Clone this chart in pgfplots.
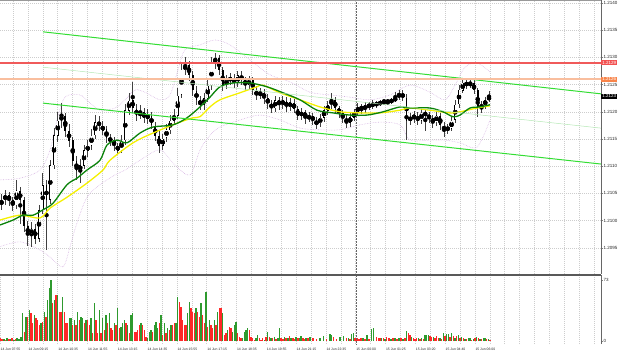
\documentclass[border=0pt]{standalone}
\usepackage{pgfplots}
\pgfplotsset{compat=1.18}
\usepackage{pgfplotstable}
\usepackage{fontspec}
\setmainfont{Liberation Sans}
\definecolor{volG}{HTML}{2E9A2E}
\definecolor{volR}{HTML}{FF2828}
\definecolor{maG}{HTML}{0A820A}
\definecolor{maY}{HTML}{F4F000}
\definecolor{chanG}{HTML}{33DD33}
\definecolor{thinG}{HTML}{B4E8B4}
\definecolor{lvlR}{HTML}{F05A5A}
\definecolor{lvlO}{HTML}{F9BE9E}
\definecolor{lblO}{HTML}{F8844A}
\definecolor{bbP}{HTML}{D6B4E2}
\definecolor{gridC}{HTML}{CDCDCD}

\pgfplotstableread{
x o h l c
1.5 1.21030 1.21050 1.21020 1.21038
5.25 1.21038 1.21058 1.21030 1.21047
9 1.21047 1.21055 1.21028 1.21038
12.75 1.21038 1.21045 1.21020 1.21029
16.5 1.21029 1.21075 1.21022 1.21056
20.25 1.21056 1.21062 1.20995 1.21038
24 1.21038 1.21045 1.20980 1.20992
27.75 1.20992 1.21000 1.20955 1.20974
31.5 1.20974 1.20998 1.20952 1.20986
35.25 1.20986 1.20995 1.20958 1.20968
39 1.20968 1.21030 1.20962 1.21020
42.75 1.21020 1.21088 1.21012 1.21066
46.5 1.21066 1.21075 1.20946 1.21038
50.25 1.21038 1.21112 1.21030 1.21102
54 1.21102 1.21170 1.21095 1.21157
57.75 1.21157 1.21200 1.21145 1.21185
61.5 1.21185 1.21216 1.21170 1.21194
65.25 1.21194 1.21200 1.21155 1.21167
69 1.21167 1.21178 1.21135 1.21148
72.75 1.21148 1.21155 1.21100 1.21111
76.5 1.21111 1.21120 1.21075 1.21093
80.25 1.21093 1.21115 1.21071 1.21102
84 1.21102 1.21140 1.21095 1.21130
87.75 1.21130 1.21150 1.21118 1.21139
91.5 1.21139 1.21168 1.21130 1.21157
95.25 1.21157 1.21195 1.21150 1.21181
99 1.21181 1.21192 1.21165 1.21176
102.75 1.21176 1.21185 1.21158 1.21167
106.5 1.21167 1.21175 1.21143 1.21152
110.25 1.21152 1.21160 1.21138 1.21148
114 1.21148 1.21155 1.21128 1.21139
117.75 1.21139 1.21145 1.21124 1.21130
121.5 1.21130 1.21158 1.21125 1.21148
125.25 1.21148 1.21215 1.21140 1.21203
129 1.21203 1.21235 1.21195 1.21222
132.75 1.21222 1.21255 1.21198 1.21207
136.5 1.21207 1.21215 1.21185 1.21194
140.25 1.21194 1.21212 1.21186 1.21200
144 1.21200 1.21208 1.21180 1.21189
147.75 1.21189 1.21205 1.21178 1.21194
151.5 1.21194 1.21200 1.21168 1.21176
155.25 1.21176 1.21182 1.21148 1.21157
159 1.21157 1.21165 1.21124 1.21139
162.75 1.21139 1.21160 1.21130 1.21152
166.5 1.21152 1.21178 1.21145 1.21167
170.25 1.21167 1.21195 1.21160 1.21185
174 1.21185 1.21205 1.21175 1.21194
177.75 1.21194 1.21245 1.21188 1.21231
181.5 1.21231 1.21290 1.21225 1.21277
185.25 1.21277 1.21301 1.21268 1.21286
189 1.21286 1.21295 1.21258 1.21268
192.75 1.21268 1.21275 1.21230 1.21240
196.5 1.21240 1.21248 1.21212 1.21222
200.25 1.21222 1.21230 1.21203 1.21213
204 1.21213 1.21235 1.21205 1.21225
207.75 1.21225 1.21260 1.21218 1.21249
211.5 1.21249 1.21302 1.21242 1.21292
215.25 1.21292 1.21310 1.21280 1.21299
219 1.21299 1.21305 1.21268 1.21277
222.75 1.21277 1.21283 1.21240 1.21249
226.5 1.21249 1.21268 1.21242 1.21259
230.25 1.21259 1.21272 1.21250 1.21262
234 1.21262 1.21270 1.21245 1.21253
237.75 1.21253 1.21276 1.21246 1.21268
241.5 1.21268 1.21275 1.21250 1.21259
245.25 1.21259 1.21265 1.21240 1.21249
249 1.21249 1.21266 1.21242 1.21259
252.75 1.21259 1.21265 1.21232 1.21240
256.5 1.21240 1.21248 1.21222 1.21231
260.25 1.21231 1.21245 1.21224 1.21236
264 1.21236 1.21242 1.21215 1.21225
267.75 1.21225 1.21232 1.21206 1.21216
271.5 1.21216 1.21222 1.21198 1.21207
275.25 1.21207 1.21230 1.21200 1.21222
279 1.21222 1.21228 1.21204 1.21213
282.75 1.21213 1.21230 1.21206 1.21222
286.5 1.21222 1.21228 1.21200 1.21209
290.25 1.21209 1.21226 1.21202 1.21218
294 1.21218 1.21224 1.21198 1.21207
297.75 1.21207 1.21212 1.21185 1.21194
301.5 1.21194 1.21208 1.21186 1.21200
305.25 1.21200 1.21205 1.21180 1.21189
309 1.21189 1.21200 1.21182 1.21192
312.75 1.21192 1.21198 1.21176 1.21185
316.5 1.21185 1.21192 1.21170 1.21179
320.25 1.21179 1.21196 1.21172 1.21189
324 1.21189 1.21210 1.21182 1.21203
327.75 1.21203 1.21220 1.21196 1.21213
331.5 1.21213 1.21235 1.21206 1.21222
335.25 1.21222 1.21228 1.21198 1.21207
339 1.21207 1.21212 1.21190 1.21198
342.75 1.21198 1.21204 1.21180 1.21189
346.5 1.21189 1.21195 1.21172 1.21181
350.25 1.21181 1.21198 1.21174 1.21191
354 1.21191 1.21207 1.21184 1.21200
357.75 1.21200 1.21216 1.21193 1.21209
361.5 1.21209 1.21215 1.21198 1.21205
365.25 1.21205 1.21220 1.21199 1.21213
369 1.21213 1.21219 1.21204 1.21211
372.75 1.21211 1.21222 1.21205 1.21216
376.5 1.21216 1.21221 1.21208 1.21214
380.25 1.21214 1.21222 1.21212 1.21220
384 1.21220 1.21222 1.21215 1.21218
387.75 1.21218 1.21222 1.21215 1.21220
391.5 1.21220 1.21226 1.21216 1.21222
395.25 1.21222 1.21235 1.21218 1.21227
399 1.21227 1.21242 1.21222 1.21233
402.75 1.21233 1.21240 1.21220 1.21227
406.5 1.21227 1.21232 1.21148 1.21185
410.25 1.21185 1.21198 1.21176 1.21189
414 1.21189 1.21202 1.21180 1.21194
417.75 1.21194 1.21200 1.21176 1.21185
421.5 1.21185 1.21208 1.21178 1.21200
425.25 1.21200 1.21206 1.21167 1.21194
429 1.21194 1.21200 1.21180 1.21189
432.75 1.21189 1.21195 1.21172 1.21181
436.5 1.21181 1.21202 1.21175 1.21194
440.25 1.21194 1.21198 1.21168 1.21176
444 1.21176 1.21182 1.21154 1.21167
447.75 1.21167 1.21178 1.21160 1.21170
451.5 1.21170 1.21192 1.21165 1.21185
455.25 1.21185 1.21222 1.21180 1.21213
459 1.21213 1.21250 1.21208 1.21240
462.75 1.21240 1.21262 1.21235 1.21255
466.5 1.21255 1.21262 1.21242 1.21249
470.25 1.21249 1.21262 1.21244 1.21253
474 1.21253 1.21258 1.21232 1.21240
477.75 1.21240 1.21245 1.21191 1.21207
481.5 1.21207 1.21220 1.21198 1.21213
485.25 1.21213 1.21228 1.21205 1.21222
489 1.21222 1.21238 1.21218 1.21229
}\candles

\pgfplotstableread{
x v
4 2
7 3
10.5 2
14 1
17 3
19 2
21 5
22.7 33
26 29
29.3 37
34.3 31
41 21
44.3 35
47.7 49
49.3 63
51 73
54.3 49
57.7 55
62.7 53
69.3 27
71 27
74.3 25
77.7 35
81 29
82.7 27
86 25
91 27
94.3 45
99.3 37
102.7 27
106 31
109.3 33
114.3 21
117.7 39
121 17
122.7 21
124.3 25
127.7 19
131 31
132.7 33
141 21
147.7 3
149.3 11
151 13
154.3 19
156 23
157.7 15
161 31
164.3 21
167.7 15
171 19
176 21
177.7 53
187.7 33
189.3 47
196 39
201 45
206 59
209.3 25
214.3 25
217.7 35
222.7 33
227.7 13
232.7 11
234.3 19
236 23
242.7 3
244.3 11
246 13
247.7 15
256 3
257.7 7
264.3 1
267.7 11
271 3
274.5 5
278 4
279.5 15
284.5 5
288 3
291 4
296 5
299.5 4
301 6
306 4
310 5
320 4
323.3 6
330 8
331.7 7
340 5
343.3 6
348.3 4
351.7 8
353.3 10
363 4
367 7
371.7 14
373.3 15
381.7 4
385 2
391 2
395 3
399 4
403 2
406.7 12
411.7 5
418.3 4
421.7 3
425 7
426.7 7
428.3 7
433.3 5
440 3
443.3 10
446.7 8
448.3 8
451.7 10
455 4
458.3 7
461.7 5
465 2
468.3 3
470 3
473.3 2
476.7 5
480 2
483.3 3
485 3
488.3 2
}\volgreen

\pgfplotstableread{
x v
0.5 3
2 2
5.5 1
9 2
12 3
15.5 2
24.3 11
27.7 29
31 33
32.7 21
36 27
37.7 25
39.3 19
42.7 23
46 29
52.7 45
56 55
59.3 35
61 35
64.3 35
66 21
67.7 21
72.7 19
76 19
79.3 25
84.3 21
87.7 25
89.3 19
92.7 9
96 25
97.7 9
101 9
104.3 13
107.7 21
111 15
112.7 13
116 19
119.3 15
126 21
129.3 9
134.3 11
136 11
137.7 13
139.3 19
142.7 19
144.3 13
146 5
152.7 11
159.3 21
162.7 7
166 9
169.3 13
172.7 19
174.3 21
179.3 47
181 41
182.7 25
184.3 19
186 19
191 39
192.7 35
194.3 33
197.7 35
199.3 29
202.7 31
204.3 21
207.7 17
211 19
212.7 15
216 19
219.3 39
221 39
224.3 7
226 9
229.3 17
231 15
237.7 9
239.3 5
241 3
249.3 13
251 5
252.7 3
254.3 1
259.3 3
261 1
262.7 3
266 5
269.3 5
272.7 3
276 2
281 3
283 2
286 4
289.5 6
293 3
294.5 2
298 3
303 3
304.5 2
308 3
313 3
316.7 2
326.7 2
333.3 5
336.7 2
346.7 3
350 2
355 3
357 3
359 2
361 3
365 2
369 2
376.7 5
378.3 4
380 3
383.3 3
386.7 5
389 3
393 4
397 2
401 3
405 3
408.3 10
410 7
413.3 3
415 2
416.7 4
420 2
423.3 2
430 6
431.7 5
435 3
436.7 6
438.3 4
441.7 2
445 6
450 5
453.3 6
456.7 6
460 3
463.3 3
466.7 2
471.7 1
475 3
478.3 3
481.7 2
486.7 2
490 1
}\volred

\begin{document}
\begin{tikzpicture}
\useasboundingbox (0,0) rectangle (620pt,354pt);
% ---------------- price panel ----------------
\begin{axis}[
  scale only axis, width=601pt, height=274pt,
  at={(0pt,80pt)}, anchor=south west,
  xmin=0, xmax=601, ymin=1.209019, ymax=1.214055,
  axis line style={draw=none},
  clip mode=individual,
  xtick={12.9,27.8,...,595}, xticklabels={}, xmajorgrids,
  ytick={1.2095,1.2100,1.2105,1.2110,1.2115,1.2120,1.2125,1.2130,1.2135,1.2140},
  yticklabel pos=right, ymajorgrids,
  scaled y ticks=false,
  grid style={gridC, line width=0.4pt, dash pattern=on 1pt off 1pt},
  major tick length=1.5pt, tick align=outside,
  tick style={draw=gray, line width=0.4pt},
  xtick style={draw=none},
  yticklabel style={font=\fontsize{4.5}{5}\selectfont, text=black!85, inner sep=1pt,
    /pgf/number format/fixed, /pgf/number format/fixed zerofill,
    /pgf/number format/precision=4, /pgf/number format/assume math mode=true},
]
% Bollinger bands
\addplot[bbP, densely dotted, line width=0.6pt, smooth] coordinates {
(0,1.21075) (20,1.21078) (40,1.21093) (50,1.21130) (57,1.21185) (65,1.21227) (80,1.21231) (90,1.21216) (100,1.21203) (115,1.21207) (125,1.21222) (135,1.21240) (145,1.21236) (160,1.21222) (170,1.21231) (178,1.21277) (185,1.21314) (200,1.21323) (215,1.21332) (230,1.21323) (250,1.21295) (270,1.21268) (290,1.21255) (310,1.21236) (330,1.21231) (350,1.21227) (370,1.21222) (390,1.21231) (410,1.21249) (430,1.21236) (445,1.21222) (455,1.21249) (465,1.21282) (477,1.21290) (490,1.21273)};
\addplot[bbP, densely dotted, line width=0.6pt, smooth] coordinates {
(0,1.20952) (20,1.20961) (40,1.20946) (50,1.20933) (63,1.20915) (70,1.20952) (77,1.20996) (87,1.21043) (100,1.21066) (115,1.21084) (125,1.21093) (140,1.21111) (160,1.21130) (175,1.21102) (190,1.21084) (200,1.21130) (210,1.21157) (220,1.21172) (240,1.21185) (260,1.21194) (280,1.21185) (300,1.21170) (320,1.21167) (340,1.21167) (360,1.21176) (380,1.21181) (400,1.21176) (410,1.21148) (430,1.21148) (445,1.21148) (460,1.21143) (477,1.21135) (490,1.21185)};
% day separator
\addplot[black!60, densely dotted, line width=0.5pt] coordinates {(356,1.209019) (356,1.214055)};
% candles: wicks
\addplot[only marks, mark=none, error bars/.cd, y dir=both, y explicit, error mark=none,
  error bar style={line width=0.6pt, black!75}]
  table[x=x, y expr={(\thisrow{h}+\thisrow{l})/2}, y error expr={(\thisrow{h}-\thisrow{l})/2}] {\candles};
% candles: bodies
\addplot[only marks, mark=none, error bars/.cd, y dir=both, y explicit, error mark=none,
  error bar style={line width=1.8pt, black}]
  table[x=x, y expr={(\thisrow{o}+\thisrow{c})/2}, y error expr={max(abs(\thisrow{c}-\thisrow{o})/2,0.000012)}] {\candles};
% bullish hollow bodies
\addplot[only marks, mark=none, error bars/.cd, y dir=both, y explicit, error mark=none,
  error bar style={line width=0.7pt, white}]
  table[x=x, y expr={(\thisrow{o}+\thisrow{c})/2}, y error expr={ifthenelse(\thisrow{c}>\thisrow{o}, max((\thisrow{c}-\thisrow{o})/2-0.0000092,0), 0)}] {\candles};
% moving averages
\addplot[maY, line width=1.3pt, smooth] coordinates {
(0,1.21001) (20,1.21010) (40,1.21005) (50,1.21023) (67,1.21043) (87,1.21069) (103,1.21093) (110,1.21111) (133,1.21143) (153,1.21161) (177,1.21179) (193,1.21189) (200,1.21191) (210,1.21209) (220,1.21222) (240,1.21235) (257,1.21246) (263,1.21249) (280,1.21235) (300,1.21222) (320,1.21209) (340,1.21200) (360,1.21198) (380,1.21198) (400,1.21203) (410,1.21207) (430,1.21203) (450,1.21198) (460,1.21200) (477,1.21207) (490,1.21211)};
\addplot[maG, line width=1.3pt, smooth] coordinates {
(0,1.20992) (13,1.21001) (23,1.21010) (33,1.21010) (43,1.21020) (53,1.21032) (67,1.21066) (77,1.21078) (87,1.21093) (100,1.21111) (107,1.21139) (117,1.21148) (127,1.21143) (140,1.21161) (153,1.21172) (173,1.21176) (187,1.21189) (200,1.21209) (210,1.21227) (220,1.21246) (233,1.21253) (250,1.21253) (267,1.21246) (283,1.21235) (300,1.21222) (317,1.21203) (333,1.21198) (350,1.21194) (367,1.21194) (383,1.21200) (400,1.21209) (410,1.21207) (430,1.21207) (443,1.21200) (453,1.21191) (460,1.21194) (470,1.21207) (480,1.21209) (490,1.21213)};
% channel
\addplot[chanG, line width=1pt] coordinates {(43,1.21347) (601,1.21233)};
\addplot[chanG, line width=1pt] coordinates {(43,1.21216) (601,1.21104)};
\addplot[thinG, line width=0.5pt] coordinates {(43,1.21282) (601,1.21170)};
% levels
\addplot[lvlR, line width=1.6pt] coordinates {(0,1.2129) (601,1.2129)};
\addplot[lvlO, line width=1.6pt] coordinates {(0,1.2126) (601,1.2126)};
% frame
\draw[gray!80, line width=0.8pt] (rel axis cs:0,1) -- (rel axis cs:1,1);
\draw[gray!80!black, line width=0.6pt] (rel axis cs:1,0) -- (rel axis cs:1,1);
% price labels
\node[anchor=west, fill=lvlR!90!red, text=white, inner xsep=1.2pt, inner ysep=0.9pt, font=\fontsize{4.5}{5}\selectfont] at (axis cs:601,1.2129) {1.2129};
\node[anchor=west, fill=lblO, text=white, inner xsep=1.2pt, inner ysep=0.9pt, font=\fontsize{4.5}{5}\selectfont] at (axis cs:601,1.2126) {1.2126};
\node[anchor=west, fill=black, text=white, inner xsep=1.2pt, inner ysep=0.9pt, font=\fontsize{4.5}{5}\selectfont] at (axis cs:601,1.21229) {1.2123};
\end{axis}
% ---------------- volume panel ----------------
\begin{axis}[
  scale only axis, width=601pt, height=69pt,
  at={(0pt,10pt)}, anchor=south west,
  xmin=0, xmax=601, ymin=-3.59, ymax=79,
  axis line style={draw=none},
  clip mode=individual,
  xtick={0,27.8,57.6,87.4,117.2,147,176.8,206.6,236.4,266.2,296,325.8,355.6,385.4,415.2,445,474.8,504.6,534.4,564.2,594},
  xticklabels={14 Jun 07:55,14 Jun 09:15,14 Jun 10:35,14 Jun 11:55,14 Jun 13:15,14 Jun 14:35,14 Jun 15:55,14 Jun 17:15,14 Jun 18:35,14 Jun 19:55,14 Jun 21:15,14 Jun 22:35,15 Jun 00:00,15 Jun 01:25,15 Jun 03:20,15 Jun 04:40,15 Jun 06:00,,,,},
  minor xtick={12.9,42.7,...,595},
  xmajorgrids, xminorgrids,
  grid style={gridC, line width=0.4pt, dash pattern=on 1pt off 1pt},
  minor grid style={gridC, line width=0.4pt, dash pattern=on 1pt off 1pt},
  ytick={0,73}, yticklabel pos=right,
  major tick length=1.5pt, minor tick length=0pt, tick align=outside,
  tick style={draw=gray, line width=0.4pt},
  xtick style={draw=none},
  yticklabel style={font=\fontsize{4.5}{5}\selectfont, text=black!85, inner sep=1pt,
    /pgf/number format/assume math mode=true},
  xticklabel style={font=\fontsize{3.4}{4}\selectfont, text=black!85, anchor=north west, inner sep=0.5pt, yshift=-1.5pt},
]
\addplot[ycomb, volG, line width=1.1pt] table[x=x, y=v] {\volgreen};
\addplot[ycomb, volR, line width=1.1pt] table[x=x, y=v] {\volred};
\addplot[black!60, densely dotted, line width=0.5pt] coordinates {(356,-3.59) (356,79)};
\draw[gray!70!black, line width=1.3pt] (rel axis cs:0,1) -- (rel axis cs:1,1);
\draw[gray!80!black, line width=0.6pt] (rel axis cs:1,0) -- (rel axis cs:1,1);
\end{axis}
\end{tikzpicture}
\end{document}
